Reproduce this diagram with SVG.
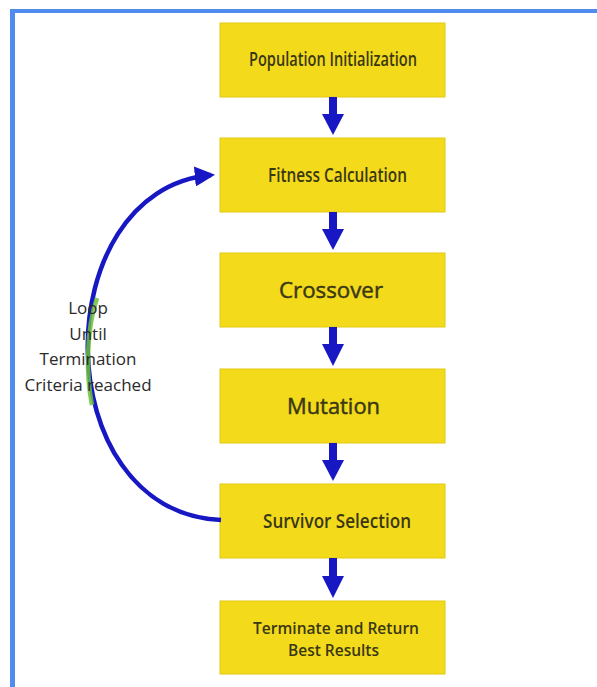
<svg xmlns="http://www.w3.org/2000/svg" width="597" height="687" viewBox="0 0 597 687">
<style>
.box{fill:#f3da1b;stroke:#e3c912;stroke-width:1}
.t{font-family:"Open Sans","Liberation Sans",sans-serif;fill:#3a3812;text-anchor:middle;font-weight:600}
.r{font-weight:400;stroke:#3a3812;stroke-width:0.45}
.l{font-family:"Open Sans","Liberation Sans",sans-serif;fill:#2a2a2a;text-anchor:middle;font-size:17px}
.ar{fill:#1717c4}
</style>
<defs>
<marker id="ah" viewBox="0 0 10 10" refX="8" refY="5" markerWidth="4.5" markerHeight="4.5" orient="auto" markerUnits="strokeWidth">
<path d="M0,0 L10,5 L0,10 z" fill="#1717c4"/>
</marker>
</defs>
<rect x="0" y="0" width="597" height="687" fill="#ffffff"/>
<rect x="10" y="9" width="587" height="4" fill="#4f8ced"/>
<rect x="10" y="9" width="5" height="678" fill="#4f8ced"/>
<g id="n1"><rect class="box" x="220" y="23" width="225" height="74"/><text class="t" x="333" y="66" font-size="19" textLength="168" lengthAdjust="spacingAndGlyphs">Population Initialization</text></g>
<g id="n2"><rect class="box" x="220" y="138" width="225" height="74"/><text class="t" x="337.5" y="182" font-size="19" textLength="139" lengthAdjust="spacingAndGlyphs">Fitness Calculation</text></g>
<g id="n3"><rect class="box" x="220" y="253" width="225" height="74"/><text class="t r" x="331" y="298" font-size="21" textLength="104" lengthAdjust="spacingAndGlyphs">Crossover</text></g>
<g id="n4"><rect class="box" x="220" y="369" width="225" height="74"/><text class="t r" x="333.5" y="414" font-size="21" textLength="93" lengthAdjust="spacingAndGlyphs">Mutation</text></g>
<g id="n5"><rect class="box" x="220" y="484" width="225" height="74"/><text class="t" x="337" y="528" font-size="19" textLength="148" lengthAdjust="spacingAndGlyphs">Survivor Selection</text></g>
<g id="n6"><rect class="box" x="220" y="601" width="225" height="73"/><text class="t" x="336" y="634" font-size="16" textLength="166" lengthAdjust="spacingAndGlyphs">Terminate and Return</text><text class="t" x="333.5" y="656" font-size="16" textLength="91" lengthAdjust="spacingAndGlyphs">Best Results</text></g>
<g id="connectors">
<g class="ar">
<rect x="329" y="97" width="8" height="18"/><path d="M322,114 L344,114 L333,135 z"/>
<rect x="329" y="212" width="8" height="18"/><path d="M322,229 L344,229 L333,250 z"/>
<rect x="329" y="327" width="8" height="18"/><path d="M322,344 L344,344 L333,366 z"/>
<rect x="329" y="443" width="8" height="18"/><path d="M322,460 L344,460 L333,481 z"/>
<rect x="329" y="558" width="8" height="19"/><path d="M322,576 L344,576 L333,598 z"/>
</g>
<path d="M221,520 C45,512 45,190 211,175" fill="none" stroke="#1717c4" stroke-width="4.5" marker-end="url(#ah)"/>
<path d="M97,298 C86,330 86,375 92,405" fill="none" stroke="#6bbf3a" stroke-width="4.5" opacity="0.85"/>
</g>
<g id="label">
<text class="l" x="88" y="314">Loop</text>
<text class="l" x="88" y="340">Until</text>
<text class="l" x="88" y="365">Termination</text>
<text class="l" x="88" y="391">Criteria reached</text>
</g>
</svg>
